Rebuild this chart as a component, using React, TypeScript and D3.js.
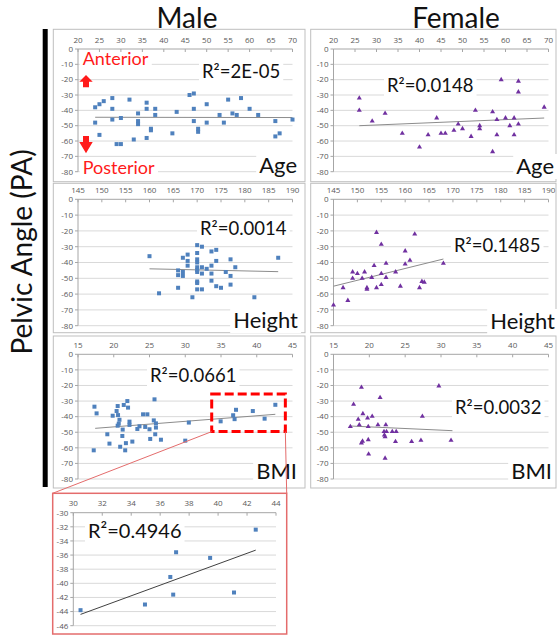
import React, { useEffect, useRef } from 'react';
import * as d3 from 'd3';

// pelvic angle vs age / height / BMI
const maleAge = [
  [24, -38], [24, -48], [25, -36], [25, -56], [26, -34], [28, -32], [28, -39], [28, -46], [29, -62],
  [30, -45], [30, -62], [32, -33], [33, -59], [34, -42], [34, -47], [34, -49], [36, -35], [36, -39],
  [36, -58], [37, -52], [37, -53], [38, -39], [38, -43], [42, -55], [43, -41], [46, -30], [47, -29],
  [47, -39], [47, -47], [48, -52], [48, -54], [50, -36], [50, -48], [53, -43], [54, -48], [55, -33],
  [56, -42], [57, -43], [58, -32], [60, -39], [62, -43], [66, -47], [66, -57], [67, -55], [70, -46],
];
const femaleAge = [
  [26, -32], [26, -40], [29, -47], [32, -42], [36, -55], [40, -64], [42, -56], [44, -45], [45, -55],
  [46, -55], [48, -53], [49, -49], [50, -52], [52, -57], [53, -40], [54, -50], [54, -52], [57, -41],
  [57, -67], [58, -46], [58, -56], [59, -20], [60, -45], [61, -50], [62, -45], [62, -56], [63, -21],
  [63, -28], [63, -49], [69, -38],
];
const maleHeight = [
  [160, -36], [162, -59.5], [166, -45], [166, -48], [166, -56], [167, -37], [167, -46], [167, -48.5],
  [168, -35], [168, -39], [168, -42], [169, -62], [170, -29], [170, -34], [170, -38], [170, -40],
  [170, -43], [170, -44.7], [170, -46], [170, -52], [170, -53], [170, -57], [171, -30], [171, -43],
  [171, -47], [171, -57], [172, -44], [173, -33], [173, -42], [173, -47], [173, -51.5], [174, -32],
  [174, -39], [174, -55], [175, -56], [176, -46], [177, -38], [177, -48.5], [177, -54], [178, -43],
  [182, -62], [187, -37],
];
const femaleHeight = [
  [145, -67], [147, -56], [148, -64], [149, -46], [149, -50], [150, -47], [151, -50], [151.5, -46],
  [152, -56], [152, -57], [153, -49.5], [153.5, -42], [154, -21], [154, -56], [155, -28.5], [155, -47],
  [155, -54], [156, -40.5], [156, -49.5], [158, -46], [159, -55], [160, -32.7], [160, -41], [161, -38.6],
  [162, -22], [163, -56], [163.5, -52], [164, -52.5], [168, -40.5],
];
const maleBmi = [
  [17.2, -61.6], [17.3, -33.6], [17.6, -37.9], [19.1, -51.3], [19.4, -57.3], [19.85, -39.4], [20.4, -36.4],
  [20.55, -33.2], [20.6, -39], [20.55, -45.8], [20.7, -44.5], [20.8, -42], [20.9, -59.3], [21.2, -52.4],
  [21.25, -48.3], [21.4, -32.5], [21.6, -61.6], [21.7, -57], [21.9, -30], [22, -34.2], [22.2, -43.2],
  [22.2, -45.3], [22.6, -56], [23.3, -47.9], [23.6, -46.2], [24.1, -38.5], [24.4, -46.6], [24.7, -38.5],
  [25, -48.1], [25.1, -54.3], [25.6, -42.4], [25.7, -28.9], [25.9, -47], [25.8, -51.3], [25.9, -44.3],
  [26.6, -54.8], [30, -55.4], [30.5, -43.8], [34.95, -43], [36.7, -39.1], [36.9, -41.6], [37.1, -35.6],
  [39.45, -36.4], [41.1, -41.3], [42.6, -32.4],
];
const femaleBmi = [
  [17.35, -46.4], [17.8, -32.1], [18.45, -41.7], [18.6, -45.3], [18.9, -21.2], [18.9, -56.9], [19.05, -55.8],
  [19.1, -38.1], [19.75, -40.9], [19.85, -46.4], [19.85, -54.8], [19.9, -64], [20.4, -39.8], [21.2, -45.3],
  [21.5, -27.8], [22.05, -49.6], [22.1, -51.8], [22.2, -53], [22.2, -66.7], [22.3, -45.3], [22.4, -49.6],
  [23.2, -49.6], [23.65, -56], [23.75, -49.6], [25.9, -56], [27.2, -55.2], [27.4, -39.8], [29.7, -20.3],
  [31.4, -55.2],
];
const insetBmi = [
  [30.5, -43.8], [34.95, -43], [36.7, -39.1], [36.9, -41.6], [37.1, -35.6], [39.45, -36.4], [41.1, -41.3], [42.6, -32.4],
];

// trend line end points
const maleAgeTrend = [[24, -44.5], [70, -44.7]];
const femaleAgeTrend = [[26, -50], [69, -45]];
const maleHeightTrend = [[160, -44], [187, -45.8]];
const femaleHeightTrend = [[145, -55], [168, -37.8]];
const maleBmiTrend = [[17.4, -47.5], [42.6, -38.5]];
const femaleBmiTrend = [[17.35, -46], [31.6, -49]];
const insetTrend = [[30.5, -44.4], [42.6, -35.3]];

const ageTicks = [20, 25, 30, 35, 40, 45, 50, 55, 60, 65, 70];
const heightTicks = [145, 150, 155, 160, 165, 170, 175, 180, 185, 190];
const bmiTicks = [15, 20, 25, 30, 35, 40, 45];
const paTicks = [0, -10, -20, -30, -40, -50, -60, -70, -80];
const insetXTicks = [30, 32, 34, 36, 38, 40, 42, 44];
const insetYTicks = [-30, -32, -34, -36, -38, -40, -42, -44, -46];

const r2Labels = ['R²=2E-05', 'R²=0.0148', 'R²=0.0014', 'R²=0.1485', 'R²=0.0661', 'R²=0.0032'];
const insetR2 = 'R²=0.4946';
const rowNames = ['Age', 'Height', 'BMI'];
const zoomBox = { x0: 33.7, x1: 44, y0: -25.5, y1: -49.6 };

const FONT = 'Lato, "Open Sans", sans-serif';
const TICKFONT = '"Open Sans", "Liberation Sans", sans-serif';

const App = () => {
  const ref = useRef<SVGSVGElement>(null);

  useEffect(() => {
    const svg = d3.select(ref.current);
    svg.selectAll('*').remove();

    const label = (g, t) => {
      const txt = g.append('text')
        .attr('x', t.x)
        .attr('y', t.y)
        .attr('text-anchor', t.anchor || 'start')
        .attr('font-family', FONT)
        .attr('font-size', t.size)
        .attr('fill', t.color || '#111')
        .text(t.text);
      const b = (txt.node() as SVGTextElement).getBBox();
      g.insert('rect', () => txt.node())
        .attr('x', b.x - 3).attr('y', b.y + 2)
        .attr('width', b.width + 6).attr('height', b.height - 2)
        .attr('fill', 'white');
    };

    const panel = (p) => {
      const g = svg.append('g');
      g.append('rect')
        .attr('x', p.box[0]).attr('y', p.box[1])
        .attr('width', p.box[2] - p.box[0]).attr('height', p.box[3] - p.box[1])
        .attr('fill', 'white')
        .attr('stroke', p.boxColor || '#bfbfbf')
        .attr('stroke-width', p.boxWidth || 1);

      const x = d3.scaleLinear().domain(p.xDomain).range(p.xr);
      const y = d3.scaleLinear().domain(p.yDomain).range(p.yr);

      g.selectAll('.grid')
        .data(p.yTicks.slice(1))
        .enter()
        .append('line')
        .attr('x1', p.xr[0]).attr('x2', p.xr[1])
        .attr('y1', (d) => y(d)).attr('y2', (d) => y(d))
        .attr('stroke', '#d9d9d9')
        .attr('stroke-width', 1);

      const lg = g.append('g');
      p.labels.forEach((t) => label(lg, t));

      const y0 = y(p.yDomain[0]);
      g.append('line')
        .attr('x1', p.xr[0]).attr('x2', p.xr[1])
        .attr('y1', y0).attr('y2', y0)
        .attr('stroke', '#a6a6a6');
      g.selectAll('.xtick')
        .data(p.xTicks)
        .enter()
        .append('line')
        .attr('x1', (d) => x(d)).attr('x2', (d) => x(d))
        .attr('y1', y0).attr('y2', y0 + 3)
        .attr('stroke', '#a6a6a6');
      g.selectAll('.xlab')
        .data(p.xTicks)
        .enter()
        .append('text')
        .attr('x', (d) => x(d))
        .attr('y', y0 - 6.5)
        .attr('text-anchor', 'middle')
        .attr('font-family', TICKFONT)
        .attr('font-size', 8)
        .attr('fill', '#595959')
        .text((d) => d);

      g.append('line')
        .attr('x1', p.xr[0]).attr('x2', p.xr[0])
        .attr('y1', p.yr[0]).attr('y2', p.yr[1])
        .attr('stroke', '#a6a6a6');
      g.selectAll('.ytick')
        .data(p.yTicks)
        .enter()
        .append('line')
        .attr('x1', p.xr[0] - 3).attr('x2', p.xr[0])
        .attr('y1', (d) => y(d)).attr('y2', (d) => y(d))
        .attr('stroke', '#a6a6a6');
      g.selectAll('.ylab')
        .data(p.yTicks)
        .enter()
        .append('text')
        .attr('x', p.xr[0] - 5)
        .attr('y', (d) => y(d))
        .attr('dy', '0.35em')
        .attr('text-anchor', 'end')
        .attr('font-family', TICKFONT)
        .attr('font-size', 8)
        .attr('fill', '#595959')
        .text((d) => d);

      g.append('line')
        .attr('x1', x(p.trend[0][0])).attr('y1', y(p.trend[0][1]))
        .attr('x2', x(p.trend[1][0])).attr('y2', y(p.trend[1][1]))
        .attr('stroke', p.trendColor || '#8c8c8c')
        .attr('stroke-width', 1);

      if (p.marker === 'triangle') {
        const tri = d3.symbol().type(d3.symbolTriangle).size(11);
        g.selectAll('.pt')
          .data(p.points)
          .enter()
          .append('path')
          .attr('d', tri)
          .attr('transform', (d) => `translate(${x(d[0])},${y(d[1])})`)
          .attr('fill', '#7030a0');
      } else {
        g.selectAll('.pt')
          .data(p.points)
          .enter()
          .append('rect')
          .attr('x', (d) => x(d[0]) - 2)
          .attr('y', (d) => y(d[1]) - 2)
          .attr('width', 4)
          .attr('height', 4)
          .attr('fill', '#4f81bd');
      }
      return { g, x, y };
    };

    const maleBox = [53.3, 305];
    const femaleBox = [310.7, 556];
    const maleXr = [78, 292.5];
    const femaleXr = [333.5, 548.5];
    const rows = [
      { box: [29.3, 181.7], yr: [49, 171.7] },
      { box: [183.3, 332.7], yr: [199.3, 325.7] },
      { box: [336, 488], yr: [354.3, 479] },
    ];
    const xDomains = [[20, 70], [145, 190], [15, 45]];
    const xTickSets = [ageTicks, heightTicks, bmiTicks];
    const maleSets = [maleAge, maleHeight, maleBmi];
    const femaleSets = [femaleAge, femaleHeight, femaleBmi];
    const maleTrends = [maleAgeTrend, maleHeightTrend, maleBmiTrend];
    const femaleTrends = [femaleAgeTrend, femaleHeightTrend, femaleBmiTrend];
    const maleR2Pos = [[202, 78], [200, 235], [150, 382]];
    const femaleR2Pos = [[387, 92], [454, 252], [455, 414]];
    const maleNamePos = [[297, 173], [298, 328], [297, 479]];
    const femaleNamePos = [[554, 174], [555, 329], [552, 479]];

    let maleBmiPanel = null;
    rows.forEach((r, i) => {
      const mLabels = [
        { text: r2Labels[i * 2], x: maleR2Pos[i][0], y: maleR2Pos[i][1], size: 18.5 },
        { text: rowNames[i], x: maleNamePos[i][0], y: maleNamePos[i][1], size: 22, anchor: 'end' },
      ];
      if (i === 0) {
        mLabels.push({ text: 'Anterior', x: 82.7, y: 65, size: 18, color: '#ff1a1a' });
        mLabels.push({ text: 'Posterior', x: 82.7, y: 174, size: 18, color: '#ff1a1a' });
      }
      const mp = panel({
        box: [maleBox[0], r.box[0], maleBox[1], r.box[1]],
        xr: maleXr, yr: r.yr,
        xDomain: xDomains[i], yDomain: [0, -80],
        xTicks: xTickSets[i], yTicks: paTicks,
        points: maleSets[i], trend: maleTrends[i],
        marker: 'square', labels: mLabels,
      });
      if (i === 2) maleBmiPanel = mp;
      panel({
        box: [femaleBox[0], r.box[0], femaleBox[1], r.box[1]],
        xr: femaleXr, yr: r.yr,
        xDomain: xDomains[i], yDomain: [0, -80],
        xTicks: xTickSets[i], yTicks: paTicks,
        points: femaleSets[i], trend: femaleTrends[i],
        marker: 'triangle',
        labels: [
          { text: r2Labels[i * 2 + 1], x: femaleR2Pos[i][0], y: femaleR2Pos[i][1], size: 18.5 },
          { text: rowNames[i], x: femaleNamePos[i][0], y: femaleNamePos[i][1], size: 22, anchor: 'end' },
        ],
      });
    });

    // anterior / posterior arrows
    svg.append('path')
      .attr('d', 'M86,75 L92.7,81.7 L89,81.7 L89,87.3 L83,87.3 L83,81.7 L79.3,81.7 Z')
      .attr('fill', '#ff1a1a');
    svg.append('path')
      .attr('d', 'M83,136 L89,136 L89,142 L92.7,142 L86,153.3 L79.3,142 L83,142 Z')
      .attr('fill', '#ff1a1a');

    // inset (zoomed BMI)
    panel({
      box: [52.7, 493.3, 286.7, 634],
      boxColor: '#e46c6c', boxWidth: 1.5,
      xr: [73.3, 276], yr: [512.7, 625.7],
      xDomain: [30, 44], yDomain: [-30, -46],
      xTicks: insetXTicks, yTicks: insetYTicks,
      points: insetBmi, trend: insetTrend, trendColor: '#404040',
      marker: 'square',
      labels: [{ text: insetR2, x: 88, y: 538, size: 20 }],
    });

    // dashed highlight on male BMI and connectors to inset
    const { x: bx, y: by } = maleBmiPanel;
    svg.append('rect')
      .attr('x', bx(zoomBox.x0)).attr('y', by(zoomBox.y0))
      .attr('width', bx(zoomBox.x1) - bx(zoomBox.x0))
      .attr('height', by(zoomBox.y1) - by(zoomBox.y0))
      .attr('fill', 'none')
      .attr('stroke', '#ff0000')
      .attr('stroke-width', 3)
      .attr('stroke-dasharray', '9,4');
    svg.append('line')
      .attr('x1', bx(zoomBox.x0)).attr('y1', by(zoomBox.y1))
      .attr('x2', 52.7).attr('y2', 493.3)
      .attr('stroke', '#e46c6c').attr('stroke-width', 1);
    svg.append('line')
      .attr('x1', bx(zoomBox.x1)).attr('y1', by(zoomBox.y1))
      .attr('x2', 286.7).attr('y2', 493.3)
      .attr('stroke', '#e46c6c').attr('stroke-width', 1);

    // titles and side label
    svg.append('text')
      .attr('x', 187).attr('y', 28)
      .attr('text-anchor', 'middle')
      .attr('font-family', FONT).attr('font-size', 28)
      .attr('fill', '#111')
      .text('Male');
    svg.append('text')
      .attr('x', 456).attr('y', 28)
      .attr('text-anchor', 'middle')
      .attr('font-family', FONT).attr('font-size', 28)
      .attr('fill', '#111')
      .text('Female');
    svg.append('rect')
      .attr('x', 42.7).attr('y', 29)
      .attr('width', 5).attr('height', 458)
      .attr('fill', '#000');
    svg.append('text')
      .attr('transform', 'translate(32,252) rotate(-90)')
      .attr('text-anchor', 'middle')
      .attr('font-family', FONT).attr('font-size', 28)
      .attr('fill', '#111')
      .text('Pelvic Angle (PA)');

    return () => {
      d3.select(ref.current).selectAll('*').remove();
    };
  }, []);

  return (
    <svg
      ref={ref}
      width={559}
      height={636}
      style={{ position: 'absolute', left: 0, top: 0, background: 'white' }}
    />
  );
};

export default App;
